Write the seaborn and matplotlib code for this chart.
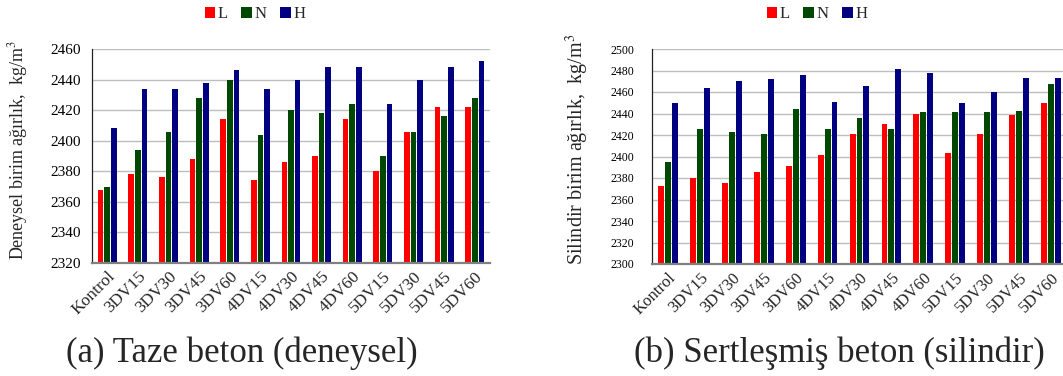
import numpy as np
import pandas as pd
import matplotlib
matplotlib.use("Agg")
import matplotlib.pyplot as plt
import seaborn as sns

categories = ["Kontrol", "3DV15", "3DV30", "3DV45", "3DV60", "4DV15", "4DV30",
              "4DV45", "4DV60", "5DV15", "5DV30", "5DV45", "5DV60"]
series_names = ["L", "N", "H"]

fresh_L = [2368, 2378, 2376, 2388, 2414, 2374, 2386, 2390, 2414, 2380, 2406, 2422, 2422]
fresh_N = [2370, 2394, 2406, 2428, 2440, 2404, 2420, 2418, 2424, 2390, 2406, 2416, 2428]
fresh_H = [2408, 2434, 2434, 2438, 2446, 2434, 2440, 2448, 2448, 2424, 2440, 2448, 2452]

hard_L = [2373, 2380, 2375, 2386, 2391, 2401, 2421, 2430, 2440, 2403, 2421, 2439, 2450]
hard_N = [2395, 2426, 2423, 2421, 2444, 2426, 2436, 2426, 2441, 2441, 2441, 2442, 2467]
hard_H = [2450, 2464, 2470, 2472, 2476, 2451, 2466, 2481, 2478, 2450, 2460, 2473, 2473]

left_ylabel = "Deneysel birim ağırlık,  kg/m$^3$"
right_ylabel = "Silindir birim ağırlık,  kg/m$^3$"
caption_a = "(a) Taze beton (deneysel)"
caption_b = "(b) Sertleşmiş beton (silindir)"

colors = ["#FF0000", "#004800", "#000080"]

sns.set_theme(style="white")
plt.rcParams["font.family"] = ["Liberation Serif", "DejaVu Serif"]
plt.rcParams["mathtext.fontset"] = "stix"

W, H = 1063, 376
fig = plt.figure(figsize=(W / 100, H / 100), dpi=100)
fig.patch.set_facecolor("white")


def long_df(L, N, Hs):
    rows = []
    for name, vals in zip(series_names, [L, N, Hs]):
        for c, v in zip(categories, vals):
            rows.append({"cat": c, "grp": name, "val": v})
    return pd.DataFrame(rows)


def draw(rect, df, ylim, yticks, ylabel, tick_size, ypad, xtick_size,
         label_x, label_y, label_size, legend_x):
    ax = fig.add_axes(rect)
    sns.barplot(data=df, x="cat", y="val", hue="grp", palette=colors,
                order=categories, hue_order=series_names, width=0.65, gap=0.15,
                saturation=1, ax=ax, errorbar=None, linewidth=0)
    ax.set_ylim(*ylim)
    ax.set_yticks(yticks)
    ax.set_xlim(-0.5, len(categories) - 0.5)
    ax.yaxis.grid(True, color="#BEBEBE", linewidth=1)
    ax.set_axisbelow(True)
    for s in ["top", "right"]:
        ax.spines[s].set_visible(False)
    ax.spines["left"].set_color("#222222")
    ax.spines["left"].set_linewidth(0.9)
    ax.spines["bottom"].set_color("#808080")
    ax.spines["bottom"].set_linewidth(1.6)
    ax.tick_params(axis="both", length=0, pad=4)
    ax.tick_params(axis="y", labelsize=tick_size, colors="black", pad=ypad)
    ax.set_xlabel("")
    ax.set_ylabel("")
    ax.set_xticks(range(len(categories)))
    ax.set_xticklabels(categories, rotation=45, ha="right", rotation_mode="anchor",
                       fontsize=xtick_size)
    fig.text(label_x, 1 - label_y / H, ylabel, rotation=90, ha="center",
             va="center", fontsize=label_size)
    handles, labels = ax.get_legend_handles_labels()
    ax.legend(handles, labels, loc="center", bbox_to_anchor=(legend_x, 1 - 14 / H),
              bbox_transform=fig.transFigure, ncol=3, frameon=False,
              handlelength=0.65, handleheight=0.65, handletextpad=0.15,
              columnspacing=0.8, fontsize=12)
    return ax


left_rect = [92 / W, (H - 263) / H, 398 / W, 214 / H]
right_rect = [652 / W, (H - 264) / H, 415 / W, 215 / H]

draw(left_rect, long_df(fresh_L, fresh_N, fresh_H), (2320, 2460),
     list(range(2320, 2461, 20)), left_ylabel, 11, 8, 12.5,
     18 / W, 150, 13, 255 / W)
draw(right_rect, long_df(hard_L, hard_N, hard_H), (2300, 2500),
     list(range(2300, 2501, 20)), right_ylabel, 8.5, 13, 12,
     577 / W, 149, 14.5, 817 / W)

fig.text(242 / W, 1 - 353 / H, caption_a, ha="center", va="center", fontsize=25)
fig.text(839 / W, 1 - 353 / H, caption_b, ha="center", va="center", fontsize=25)

fig.savefig("out.png", dpi=100)
